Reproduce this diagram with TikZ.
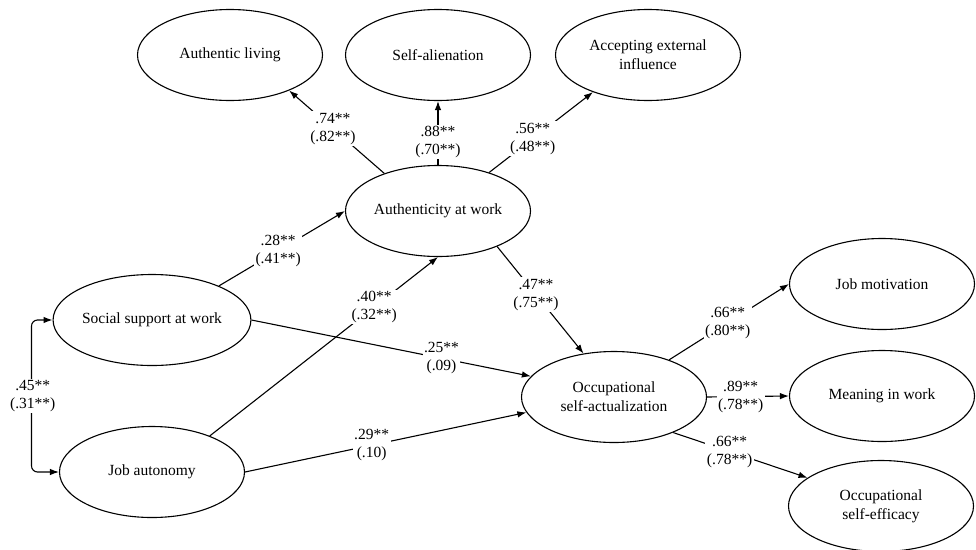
\documentclass[tikz,border=0pt]{standalone}
\usepackage{fontspec}
\setmainfont{Liberation Serif}
\usetikzlibrary{shapes.geometric,arrows.meta,calc}
\begin{document}
\begin{tikzpicture}[x=1pt,y=-1pt,
  lv/.style={ellipse,draw,line width=1.1pt,minimum width=185pt,minimum height=91pt,inner sep=0pt,align=center,font=\fontsize{15.5}{19}\selectfont},
  lab/.style={fill=white,inner sep=1.5pt,align=center,font=\fontsize{15.5}{18}\selectfont},
  tip/.style={Latex[length=9pt,width=6.5pt]},
  arr/.style={line width=1.1pt,-{Latex[length=9pt,width=6.5pt]}}]
\useasboundingbox (0,0) rectangle (976,549);
% latent variables
\node[lv] (al)   at (230,55)  {Authentic living};
\node[lv] (sa)   at (438,55)  {Self-alienation};
\node[lv] (aei)  at (648,55)  {Accepting external\\influence};
\node[lv] (auth) at (438,211) {Authenticity at work};
\node[lv] (ss)   at (152,320) {Social support at work};
\node[lv] (ja)   at (152,472) {Job autonomy};
\node[lv] (osa)  at (614,397) {Occupational\\self-actualization};
\node[lv] (jm)   at (882,284) {Job motivation};
\node[lv] (mw)   at (882,396) {Meaning in work};
\node[lv] (ose)  at (881,506) {Occupational\\self-efficacy};
% paths
\draw[arr] (auth.145) -- node[lab,pos=0.54] (l1) {.74**\\(.82**)} (al.-31);
\draw[arr] (auth.north) -- node[lab,pos=0.36] (l2) {.88**\\(.70**)} (sa.south);
\draw[arr] (auth.37) -- node[lab,pos=0.42] (l3) {.56**\\(.48**)} (aei.-146);
\draw[arr] (ss.27) -- node[lab,pos=0.47] (l4) {.28**\\(.41**)} (auth.west);
\draw[arr] (ja.32) -- node[lab,pos=0.72] (l5) {.40**\\(.32**)} (auth.south);
\draw[arr] (auth.-31) -- node[lab,pos=0.45] (l6) {.47**\\(.75**)} (osa.125);
\draw[arr] (ss.east) -- node[lab,pos=0.68] (l7) {.25**\\(.09)} (osa.166);
\draw[arr] (ja.east) -- node[lab,pos=0.45] (l8) {.29**\\(.10)} (osa.-170);
\draw[arr] (osa.34) -- node[lab,pos=0.49] (l9) {.66**\\(.80**)} (jm.west);
\draw[arr] (osa.east) -- node[lab,pos=0.41] (l10) {.89**\\(.78**)} (mw.west);
\draw[arr] (osa.-31) -- node[lab,pos=0.42] (l11) {.66**\\(.78**)} (ose.159);
% correlation
\draw[line width=1.1pt,{Latex[length=9pt,width=6.5pt]}-{Latex[length=9pt,width=6.5pt]},rounded corners=6pt]
  (ss.west) -- ++(-21,0) |- (ja.west);
\node[lab] (l12) at ($(ss.west)!0.5!(ja.west)+(-23,0)$) {.45**\\(.31**)};
\end{tikzpicture}
\end{document}
